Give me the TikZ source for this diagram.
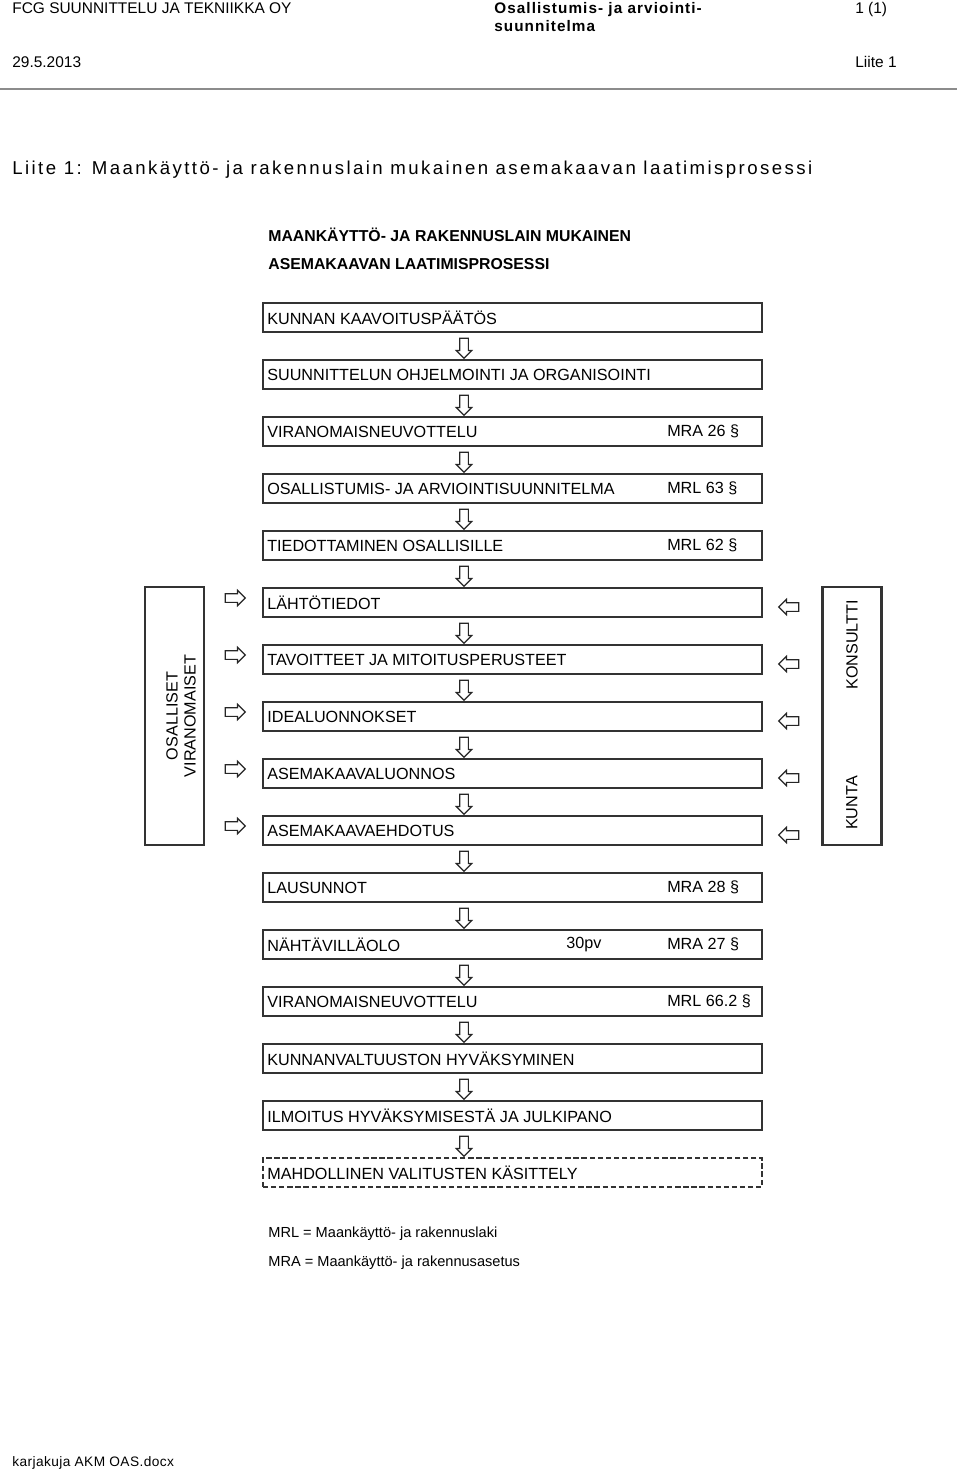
\documentclass[tikz,border=0pt]{standalone}
\usepackage{fontspec}
\setmainfont{Liberation Sans}
\newfontfamily\spacedfont[LetterSpace=13]{Liberation Sans}
\newfontfamily\headfont[LetterSpace=7]{Liberation Sans}
\newfontfamily\footfont[LetterSpace=3]{Liberation Sans}
\usetikzlibrary{positioning,shapes.arrows}
\tikzset{
      stepbox/.style={
        draw=black!80,
        line width=1.2pt,
        minimum width=9.98cm,
        minimum height=0.58cm,
        inner sep=0pt
      },
      steptext/.style={
        inner sep=0pt,
        font=\fontsize{9.2pt}{11pt}\selectfont
      },
      sidebox/.style={
        draw=black!80,
        line width=1.2pt,
        minimum width=1.18cm,
        minimum height=5.16cm
      },
      flowarrow/.style={
        single arrow,
        draw=black!85,
        line width=0.7pt,
        fill=white,
        minimum height=0.4cm,
        minimum width=0.28cm,
        single arrow head extend=0.065cm,
        inner sep=0.075cm
      },
      pagetext/.style={
        anchor=base west,
        inner sep=0pt
      }
    }
\begin{document}
\begin{tikzpicture}[x=0.02cm,y=-0.02cm]
    \useasboundingbox[fill=white] (0,0) rectangle (960,1470);
    % page header
    \node[pagetext, font=\fontsize{8.8pt}{10pt}\selectfont] (firm) at (12,14) {FCG SUUNNITTELU JA TEKNIIKKA OY};
    \node[pagetext, font=\headfont\bfseries\fontsize{8.7pt}{10pt}\selectfont] (doc1) at (494,14) {Osallistumis- ja arviointi-};
    \node[pagetext, font=\headfont\bfseries\fontsize{8.7pt}{10pt}\selectfont] (doc2) at (494,32) {suunnitelma};
    \node[pagetext, font=\fontsize{8.8pt}{10pt}\selectfont] (pages) at (855,14) {1 (1)};
    \node[pagetext, font=\fontsize{8.8pt}{10pt}\selectfont] (date) at (12,68) {29.5.2013};
    \node[pagetext, font=\fontsize{8.8pt}{10pt}\selectfont] (att) at (855,68) {Liite 1};
    \draw[black!45, line width=1.2pt] (0,89) -- (957,89);
    \node[pagetext, font=\spacedfont\fontsize{10.6pt}{12pt}\selectfont] (title) at (12,174) {Liite 1: Maankäyttö- ja rakennuslain mukainen asemakaavan laatimisprosessi};

    % diagram heading
    \node[pagetext, font=\bfseries\fontsize{9pt}{11pt}\selectfont] (head1) at (268,241) {MAANKÄYTTÖ- JA RAKENNUSLAIN MUKAINEN};
    \node[pagetext, font=\bfseries\fontsize{9pt}{11pt}\selectfont] (head2) at (268,269) {ASEMAKAAVAN LAATIMISPROSESSI};

    % process steps
    \node[stepbox] (s1) at (512.5,317.5) {};
    \node[stepbox] (s2) at (512.5,374.5) {};
    \node[stepbox] (s3) at (512.5,431.5) {};
    \node[stepbox] (s4) at (512.5,488.5) {};
    \node[stepbox] (s5) at (512.5,545.5) {};
    \node[stepbox] (s6) at (512.5,602.5) {};
    \node[stepbox] (s7) at (512.5,659.5) {};
    \node[stepbox] (s8) at (512.5,716.5) {};
    \node[stepbox] (s9) at (512.5,773.5) {};
    \node[stepbox] (s10) at (512.5,830.5) {};
    \node[stepbox] (s11) at (512.5,887.5) {};
    \node[stepbox] (s12) at (512.5,944.5) {};
    \node[stepbox] (s13) at (512.5,1001.5) {};
    \node[stepbox] (s14) at (512.5,1058.5) {};
    \node[stepbox] (s15) at (512.5,1115.5) {};
    \node[stepbox, dash pattern=on 3pt off 1.6pt] (s16) at (512.5,1172.5) {};

    \node[steptext, right=0.1cm of s1.west] {KUNNAN KAAVOITUSPÄÄTÖS};
    \node[steptext, right=0.1cm of s2.west] {SUUNNITTELUN OHJELMOINTI JA ORGANISOINTI};
    \node[steptext, right=0.1cm of s3.west] {VIRANOMAISNEUVOTTELU};
    \node[steptext, right=8.1cm of s3.west] {MRA 26 §};
    \node[steptext, right=0.1cm of s4.west] {OSALLISTUMIS- JA ARVIOINTISUUNNITELMA};
    \node[steptext, right=8.1cm of s4.west] {MRL 63 §};
    \node[steptext, right=0.1cm of s5.west] {TIEDOTTAMINEN OSALLISILLE};
    \node[steptext, right=8.1cm of s5.west] {MRL 62 §};
    \node[steptext, right=0.1cm of s6.west] {LÄHTÖTIEDOT};
    \node[steptext, right=0.1cm of s7.west] {TAVOITTEET JA MITOITUSPERUSTEET};
    \node[steptext, right=0.1cm of s8.west] {IDEALUONNOKSET};
    \node[steptext, right=0.1cm of s9.west] {ASEMAKAAVALUONNOS};
    \node[steptext, right=0.1cm of s10.west] {ASEMAKAAVAEHDOTUS};
    \node[steptext, right=0.1cm of s11.west] {LAUSUNNOT};
    \node[steptext, right=8.1cm of s11.west] {MRA 28 §};
    \node[steptext, right=0.1cm of s12.west] {NÄHTÄVILLÄOLO};
    \node[steptext, right=6.08cm of s12.west] {30pv};
    \node[steptext, right=8.1cm of s12.west] {MRA 27 §};
    \node[steptext, right=0.1cm of s13.west] {VIRANOMAISNEUVOTTELU};
    \node[steptext, right=8.1cm of s13.west] {MRL 66.2 §};
    \node[steptext, right=0.1cm of s14.west] {KUNNANVALTUUSTON HYVÄKSYMINEN};
    \node[steptext, right=0.1cm of s15.west] {ILMOITUS HYVÄKSYMISESTÄ JA JULKIPANO};
    \node[steptext, right=0.1cm of s16.west] {MAHDOLLINEN VALITUSTEN KÄSITTELY};

    % down arrows between the steps
    \foreach \i in {0,...,14}
      \node[flowarrow, shape border rotate=270] (down\i) at (464,346+57*\i) {};

    % side boxes
    \node[sidebox] (osal) at (174.5,716) {};
    \node[steptext, rotate=90, align=center, font=\fontsize{9.2pt}{10.3pt}\selectfont] at (181,716) {OSALLISET\\VIRANOMAISET};
    \node[sidebox] (kunta) at (852,716) {};
    \node[steptext, rotate=90] at (852,645) {KONSULTTI};
    \node[steptext, rotate=90] at (852,803) {KUNTA};
    \foreach \i in {0,...,4}
      \node[flowarrow] (inL\i) at (233,598+57*\i) {};
    \foreach \i in {0,...,4}
      \node[flowarrow, shape border rotate=180] (inR\i) at (791,607+57*\i) {};

    % legend and footer
    \node[pagetext, font=\fontsize{8.3pt}{10pt}\selectfont] (mrl) at (268,1237) {MRL = Maankäyttö- ja rakennuslaki};
    \node[pagetext, font=\fontsize{8.3pt}{10pt}\selectfont] (mra) at (268,1266) {MRA = Maankäyttö- ja rakennusasetus};
    \node[pagetext, font=\footfont\fontsize{7.8pt}{10pt}\selectfont] (file) at (12,1466) {karjakuja AKM OAS.docx};
    \end{tikzpicture}
\end{document}
